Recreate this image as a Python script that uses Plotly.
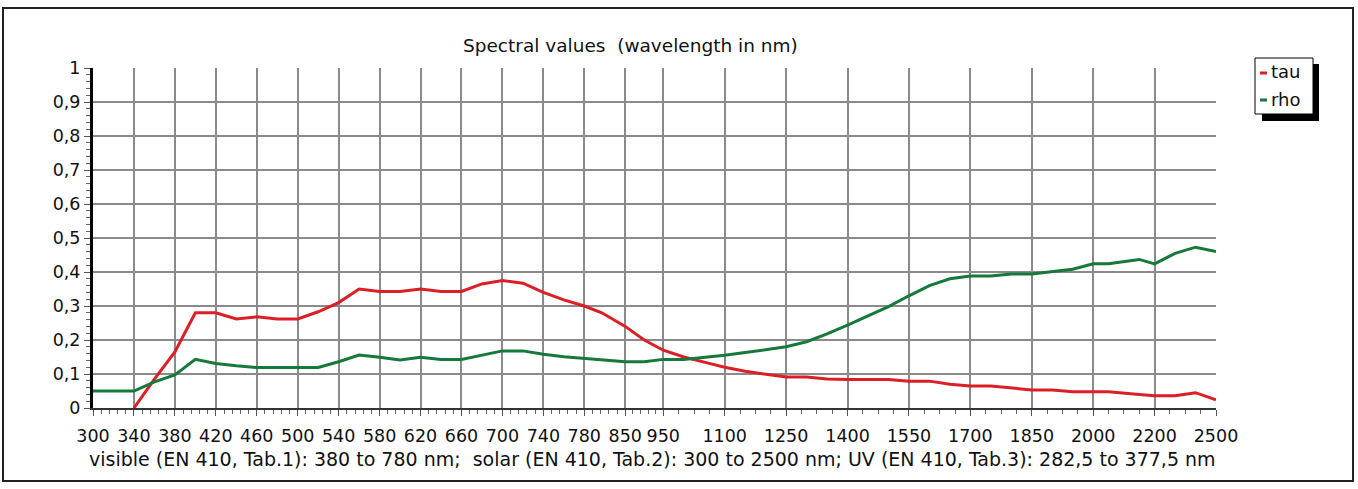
import numpy as np
import plotly.graph_objects as go

# ---- data ----
tick_wl = [300, 340, 380, 420, 460, 500, 540, 580, 620, 660, 700, 740, 780, 850,
           950, 1100, 1250, 1400, 1550, 1700, 1850, 2000, 2200, 2500]
tick_labels = [str(v) for v in tick_wl]
y_ticks = [0, 0.1, 0.2, 0.3, 0.4, 0.5, 0.6, 0.7, 0.8, 0.9, 1]
y_labels = ["0", "0,1", "0,2", "0,3", "0,4", "0,5", "0,6", "0,7", "0,8", "0,9", "1"]

tau_wl = [340, 360, 380, 400, 420, 440, 460, 480, 500, 520, 540, 560, 580, 600, 620, 640,
          660, 680, 700, 720, 740, 760, 780, 810, 850, 900, 950, 1000, 1050, 1100, 1150,
          1200, 1250, 1300, 1350, 1400, 1450, 1500, 1550, 1600, 1650, 1700, 1750, 1800,
          1850, 1900, 1950, 2000, 2050, 2150, 2200, 2300, 2400, 2500]
tau = [0.0, 0.085, 0.165, 0.28, 0.28, 0.262, 0.268, 0.262, 0.262, 0.283, 0.31, 0.35,
       0.343, 0.343, 0.35, 0.343, 0.343, 0.365, 0.375, 0.367, 0.34, 0.318, 0.30, 0.28,
       0.24, 0.20, 0.17, 0.15, 0.135, 0.12, 0.108, 0.10, 0.091, 0.091, 0.085, 0.084,
       0.084, 0.084, 0.079, 0.079, 0.07, 0.065, 0.065, 0.058, 0.053, 0.053, 0.048,
       0.048, 0.048, 0.04, 0.036, 0.036, 0.045, 0.024]

rho_wl = [300, 340, 360, 380, 400, 420, 440, 460, 480, 500, 520, 540, 560, 580, 600, 620,
          640, 660, 680, 700, 720, 740, 760, 780, 810, 850, 900, 950, 1000, 1050, 1100,
          1150, 1200, 1250, 1300, 1350, 1400, 1450, 1500, 1550, 1600, 1650, 1700, 1750,
          1800, 1850, 1900, 1950, 2000, 2050, 2150, 2200, 2300, 2400, 2500]
rho = [0.05, 0.05, 0.077, 0.097, 0.143, 0.131, 0.124, 0.119, 0.119, 0.119, 0.119, 0.136,
       0.156, 0.149, 0.141, 0.149, 0.143, 0.143, 0.156, 0.168, 0.168, 0.158, 0.151, 0.146,
       0.141, 0.136, 0.136, 0.143, 0.143, 0.148, 0.155, 0.163, 0.172, 0.18, 0.195, 0.218,
       0.244, 0.27, 0.298, 0.33, 0.36, 0.38, 0.388, 0.388, 0.394, 0.394, 0.40, 0.408,
       0.424, 0.424, 0.437, 0.424, 0.455, 0.473, 0.46]

# ---- axis layout (position of each labelled wavelength on the drawn axis) ----
tick_pos = [0, 1, 2, 3, 4, 5, 6, 7, 8, 9, 10, 11, 12, 13,
            13.93, 15.43, 16.93, 18.43, 19.93, 21.43, 22.93, 24.43, 25.93, 27.43]


def to_pos(w):
    return np.interp(w, tick_wl, tick_pos)


# minor ticks: 5 subdivisions up to 950, 4 afterwards
minor = []
for i in range(len(tick_pos) - 1):
    n = 5 if tick_wl[i] < 950 else 4
    a, b = tick_pos[i], tick_pos[i + 1]
    for k in range(1, n):
        minor.append(a + (b - a) * k / n)

W, H = 1358, 489
L, R, T, B = 93, 1216, 68, 408


def px(x):
    return (x - L) / (R - L)


def py(y):
    return (B - y) / (B - T)


RED = "#dc1e26"
GREEN = "#16783a"
FONT = "DejaVu Sans"

fig = go.Figure()
fig.add_trace(go.Scatter(x=to_pos(tau_wl), y=tau, mode="lines", name="tau",
                         line=dict(color=RED, width=3)))
fig.add_trace(go.Scatter(x=to_pos(rho_wl), y=rho, mode="lines", name="rho",
                         line=dict(color=GREEN, width=3)))

shapes = []
# outer frame
shapes.append(dict(type="rect", xref="paper", yref="paper",
                   x0=px(3), x1=px(1353), y0=py(481), y1=py(8),
                   line=dict(color="#222", width=2), layer="below"))
# legend shadow and box
shapes.append(dict(type="rect", xref="paper", yref="paper",
                   x0=px(1262), x1=px(1319), y0=py(121), y1=py(64),
                   line=dict(width=0), fillcolor="black"))
shapes.append(dict(type="rect", xref="paper", yref="paper",
                   x0=px(1255), x1=px(1313), y0=py(114), y1=py(58),
                   line=dict(color="black", width=1), fillcolor="white"))
shapes.append(dict(type="line", xref="paper", yref="paper",
                   x0=px(1260), x1=px(1267), y0=py(73), y1=py(73),
                   line=dict(color=RED, width=3)))
shapes.append(dict(type="line", xref="paper", yref="paper",
                   x0=px(1260), x1=px(1267), y0=py(100), y1=py(100),
                   line=dict(color=GREEN, width=3)))

annotations = [
    dict(text="Spectral values  (wavelength in nm)", xref="paper", yref="paper",
         x=px(630), y=py(45), showarrow=False, xanchor="center", yanchor="middle",
         font=dict(family=FONT, size=18.5, color="#111")),
    dict(text="visible (EN 410, Tab.1): 380 to 780 nm;  solar (EN 410, Tab.2): 300 to 2500 nm; "
              "UV (EN 410, Tab.3): 282,5 to 377,5 nm",
         xref="paper", yref="paper", x=px(652), y=py(459), showarrow=False,
         xanchor="center", yanchor="middle", font=dict(family=FONT, size=19, color="#111")),
    dict(text="tau", xref="paper", yref="paper", x=px(1269), y=py(72), showarrow=False,
         xanchor="left", yanchor="middle", font=dict(family=FONT, size=18, color="#111")),
    dict(text="rho", xref="paper", yref="paper", x=px(1269), y=py(99), showarrow=False,
         xanchor="left", yanchor="middle", font=dict(family=FONT, size=18, color="#111")),
]

fig.update_layout(
    width=W, height=H,
    margin=dict(l=L, r=W - R, t=T, b=H - B, pad=0),
    paper_bgcolor="white", plot_bgcolor="white",
    showlegend=False,
    shapes=shapes, annotations=annotations,
    xaxis=dict(range=[0, tick_pos[-1]], tickmode="array", tickvals=tick_pos,
               ticktext=tick_labels, showgrid=True, gridcolor="#8a8a8a", gridwidth=2,
               showline=True, linecolor="#333", linewidth=2, ticks="outside",
               ticklen=6, tickcolor="#555", tickwidth=1, zeroline=False,
               ticklabelstandoff=5,
               tickfont=dict(family=FONT, size=17.5, color="#111"),
               minor=dict(tickmode="array", tickvals=minor, ticks="outside", ticklen=4,
                          tickcolor="#666", showgrid=False)),
    yaxis=dict(range=[0, 1], tickmode="array", tickvals=y_ticks, ticktext=y_labels,
               showgrid=True, gridcolor="#8a8a8a", gridwidth=2, zeroline=False,
               showline=True, linecolor="black", linewidth=3, ticks="outside",
               ticklen=6, tickcolor="#555", tickwidth=1,
               tickfont=dict(family=FONT, size=17.5, color="#111"),
               minor=dict(dtick=0.02, ticks="outside", ticklen=4, tickcolor="#666",
                          showgrid=False)),
)

fig.write_html("out.html", config={"displayModeBar": False},
               post_script="document.body.style.margin='0px';")
